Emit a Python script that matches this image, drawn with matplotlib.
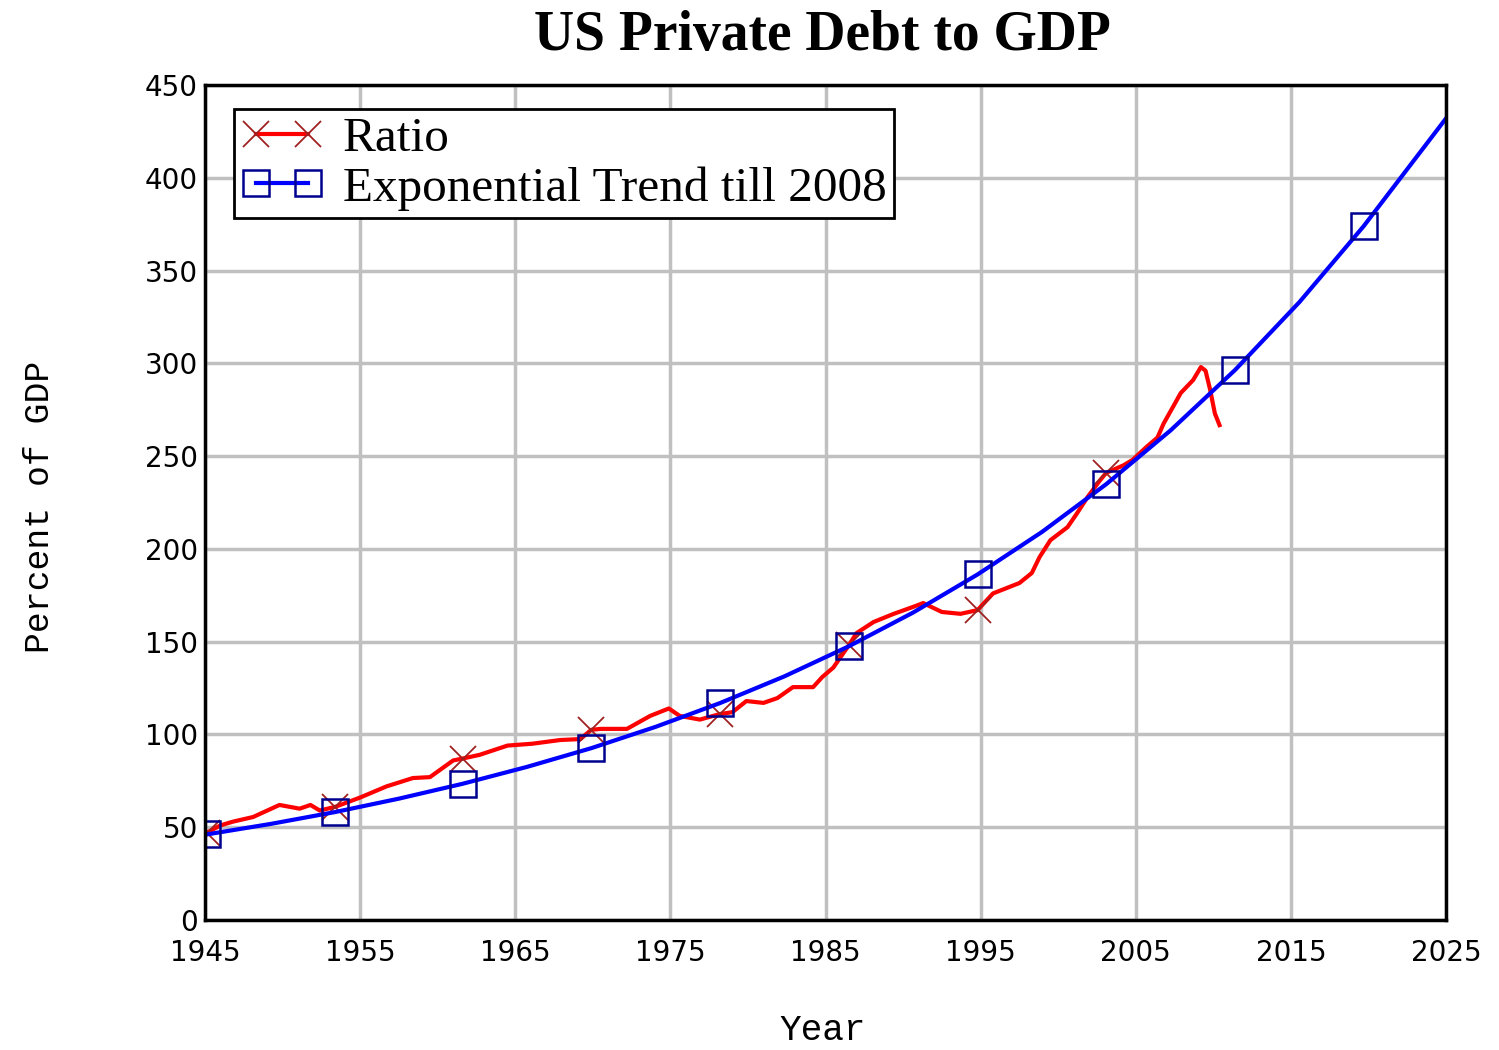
import numpy as np
import matplotlib
matplotlib.use("Agg")
import matplotlib.pyplot as plt

# Ratio (red)
ratio_years = [1945.0, 1945.1, 1946.0, 1946.8, 1948.1, 1949.8, 1951.1, 1951.8, 1952.4, 1953.4,
               1955.0, 1956.7, 1958.4, 1959.5, 1961.0, 1961.6, 1962.7, 1964.5, 1966.1, 1967.9,
               1969.2, 1969.9, 1970.5, 1972.2, 1973.7, 1974.9, 1975.6, 1976.9, 1978.2, 1979.0,
               1979.9, 1981.0, 1981.9, 1982.9, 1984.2, 1984.8, 1985.5, 1986.5, 1987.0, 1988.1,
               1989.4, 1990.6, 1991.3, 1992.5, 1993.7, 1994.8, 1995.8, 1997.5, 1998.3, 1998.8,
               1999.5, 2000.6, 2001.2, 2001.9, 2002.7, 2003.1, 2004.2, 2004.8, 2005.7, 2006.4,
               2006.8, 2007.4, 2007.9, 2008.7, 2009.2, 2009.5, 2009.8, 2010.1, 2010.4]
ratio_vals = [46, 47, 51, 53, 55.5, 62, 60, 62, 59, 61,
              66, 72, 76.5, 77, 86, 87, 89, 94, 95, 97,
              97.5, 102.5, 103, 103, 110, 114, 110, 108, 111, 112,
              118, 117, 119.6, 125.5, 125.5, 131, 136, 148, 154.6, 160.6,
              165, 168.6, 170.8, 166, 165, 167, 176, 181.6, 187, 195.6,
              204.7, 211.7, 219, 228, 237, 241, 245, 248, 255, 260,
              267.6, 276.5, 284, 291, 298, 296, 285.6, 273, 266.7]

# Exponential trend till 2008 (blue)
trend_years = [1945.0, 1945.1, 1949.25, 1953.4, 1957.5, 1961.6, 1965.75, 1969.9, 1974.05, 1978.2,
               1982.35, 1986.5, 1990.65, 1994.8, 1998.95, 2003.1, 2007.25, 2011.4, 2015.55, 2019.7,
               2025.0]
trend_vals = [46.0, 46.1, 51.8, 58.2, 65.4, 73.4, 82.5, 92.6, 104.1, 116.9,
              131.3, 147.5, 165.7, 186.2, 209.1, 234.9, 263.9, 296.4, 333.0, 374.0,
              432.0]

marker_years = [1945.1, 1953.4, 1961.6, 1969.9, 1978.2, 1986.5, 1994.8, 2003.1, 2011.4, 2019.7]

xticks = [1945, 1955, 1965, 1975, 1985, 1995, 2005, 2015, 2025]
yticks = [0, 50, 100, 150, 200, 250, 300, 350, 400, 450]

red_marks = [i for i, y in enumerate(ratio_years) if y in marker_years]
blue_marks = [i for i, y in enumerate(trend_years) if y in marker_years]

W, H = 1499, 1050
fig = plt.figure(figsize=(W/100, H/100), dpi=100)
ax = fig.add_axes([205/W, 1 - 920/H, 1241/W, 835/H])

ax.plot(ratio_years, ratio_vals, color='#ff0000', lw=3, marker='x', ms=19,
        mec='#a02020', mew=1.3, markevery=red_marks, label='Ratio')
ax.plot(trend_years, trend_vals, color='#0000ff', lw=3, marker='s', ms=19,
        mfc='none', mec='#000090', mew=1.8, markevery=blue_marks,
        label='Exponential Trend till 2008')

ax.set_xlim(1945, 2025)
ax.set_ylim(0, 450)
ax.set_xticks(xticks)
ax.set_yticks(yticks)
ax.grid(True, color='#c0c0c0', lw=2.5)
ax.set_axisbelow(True)
ax.tick_params(length=0, labelsize=20, pad=5)
ax.tick_params(axis='x', pad=14)
for s in ax.spines.values():
    s.set_linewidth(2.5)
    s.set_color('black')

fig.text(822/W, 1 - 50/H, 'US Private Debt to GDP', fontsize=40, fontweight='bold',
         family='Liberation Serif', ha='center', va='baseline')
fig.text(823/W, 1 - 1030/H, 'Year', fontsize=26, family='Liberation Mono',
         ha='center', va='center')
fig.text(40/W, 1 - 507/H, 'Percent of GDP', fontsize=25, family='Liberation Mono',
         ha='center', va='center', rotation=90)

leg = ax.legend(loc='upper left', bbox_to_anchor=(0.0234, 0.971), borderaxespad=0,
                prop={'family': 'Liberation Serif', 'size': 35.5}, numpoints=2,
                fancybox=False, edgecolor='black', framealpha=1, borderpad=0.15,
                handlelength=1.65, handletextpad=0.4, labelspacing=0.1)
leg.get_frame().set_linewidth(2)

fig.savefig('out.png', dpi=100)
